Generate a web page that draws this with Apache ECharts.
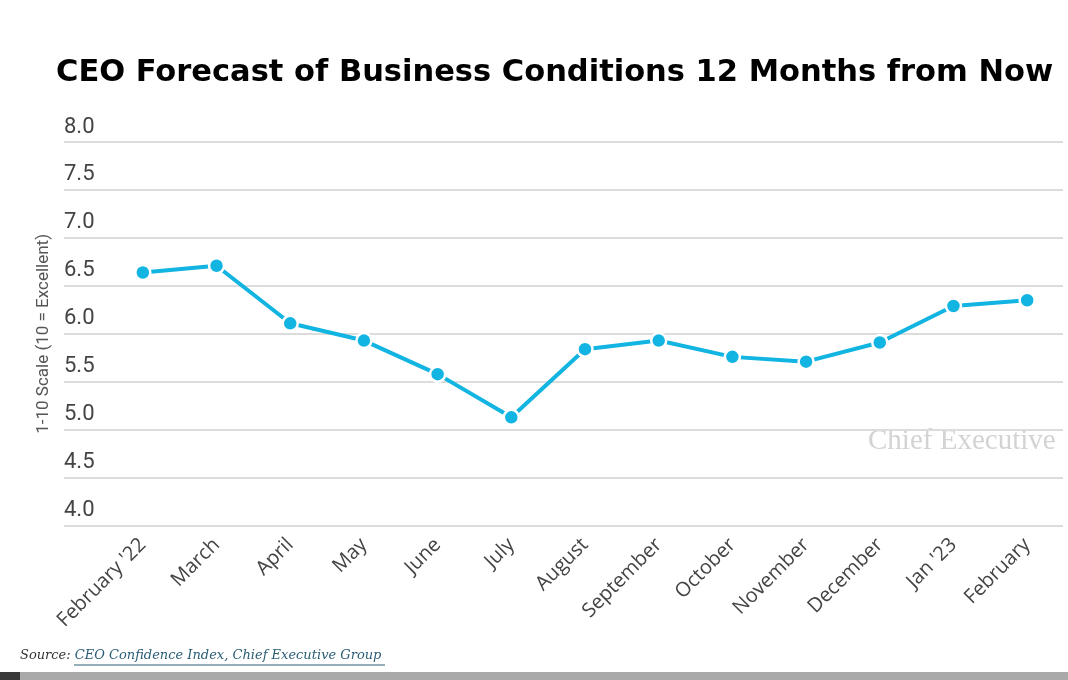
<!DOCTYPE html>
<html>
<head>
<meta charset="utf-8">
<script src="https://cdn.jsdelivr.net/npm/echarts@6/dist/echarts.min.js"></script>
<style>
html,body{margin:0;padding:0;background:#fff;}
#chart{width:1068px;height:680px;}
</style>
</head>
<body>
<div id="chart"></div>
<script>
const titleText = "CEO Forecast of Business Conditions 12 Months from Now";
const yAxisName = "1-10 Scale (10 = Excellent)";
const categories = ["February '22","March","April","May","June","July","August","September","October","November","December","Jan '23","February"];
const values = [6.64, 6.71, 6.11, 5.93, 5.58, 5.13, 5.84, 5.93, 5.76, 5.71, 5.91, 6.29, 6.35];
const yMin = 4.0, yMax = 8.0, yStep = 0.5;

const chart = echarts.init(document.getElementById('chart'), null, {renderer:'canvas'});
const option = {
  backgroundColor:'#fff',
  animation:false,
  title:{
    text:titleText,
    left:51, top:53,
    textStyle:{fontFamily:'DejaVu Sans', fontWeight:'bold', fontSize:30.5, color:'#000'}
  },
  grid:[
    {left:64, right:5, top:142, bottom:154.3},
    {left:106, right:4, top:142, bottom:154.3}
  ],
  xAxis:[
    {gridIndex:0, type:'value', min:0, max:1, show:false},
    {gridIndex:1, type:'category', data:categories, boundaryGap:true,
     axisLine:{show:false}, axisTick:{show:false},
     axisLabel:{rotate:45, margin:16, fontFamily:'Open Sans', fontWeight:500, fontSize:20, color:'#444', interval:0}}
  ],
  yAxis:[
    {gridIndex:0, type:'value', min:yMin, max:yMax, interval:yStep,
     name:yAxisName, nameLocation:'middle', nameGap:12, nameRotate:90,
     nameTextStyle:{fontFamily:'Roboto', fontSize:17, color:'#555'},
     axisLine:{show:false}, axisTick:{show:false},
     axisLabel:{inside:true, margin:0, verticalAlign:'bottom', padding:[0,0,4,0],
       fontFamily:'Roboto', fontSize:22, color:'#444',
       formatter:v=>v.toFixed(1)},
     splitLine:{lineStyle:{color:'#dcdcdc', width:2}}},
    {gridIndex:1, type:'value', min:yMin, max:yMax, interval:yStep, show:false}
  ],
  series:[{
    type:'line', xAxisIndex:1, yAxisIndex:1, data:values,
    symbol:'circle', symbolSize:15,
    lineStyle:{color:'#12b4e2', width:4},
    itemStyle:{color:'#12b4e2', borderColor:'#fff', borderWidth:2.5}
  }],
  graphic:[
    {type:'text', left:868, top:427, z:0,
     style:{text:'Chief Executive', fontFamily:'Liberation Serif', fontSize:29, fill:'#d3d3d3'}},
    {type:'text', left:20, top:649,
     style:{rich:{a:{fontFamily:'DejaVu Serif', fontStyle:'italic', fontSize:13, fill:'#333'},
                  b:{fontFamily:'DejaVu Serif', fontStyle:'italic', fontSize:13, fill:'#2b5d75'}},
            text:'{a|Source: }{b|CEO Confidence Index, Chief Executive Group}'}},
    {type:'line', shape:{x1:74, y1:665, x2:385, y2:665}, style:{stroke:'#2b5d75', lineWidth:1}},
    {type:'rect', shape:{x:0, y:672, width:1068, height:8}, style:{fill:'#a9a9a9'}},
    {type:'rect', shape:{x:0, y:672, width:20, height:8}, style:{fill:'#3a3a3a'}}
  ]
};
chart.setOption(option);
</script>
</body>
</html>
